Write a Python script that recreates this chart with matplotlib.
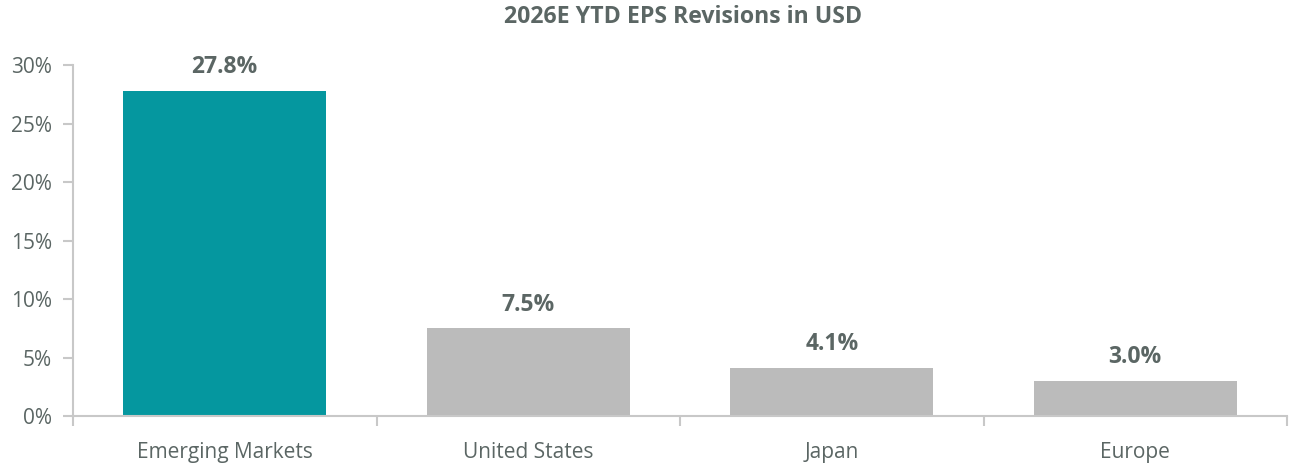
import matplotlib
matplotlib.use("Agg")
import matplotlib.pyplot as plt
from matplotlib.ticker import FuncFormatter

categories = ["Emerging Markets", "United States", "Japan", "Europe"]
values = [27.8, 7.5, 4.1, 3.0]
colors = ["#05979F", "#BBBBBB", "#BBBBBB", "#BBBBBB"]
yticks = [0, 5, 10, 15, 20, 25, 30]

plt.rcParams['font.family'] = ['Open Sans', 'DejaVu Sans']
txt = "#5B6664"
axc = "#C8C8C8"

fig = plt.figure(figsize=(12.91, 4.66), dpi=100)
ax = fig.add_axes([73/1291, 1-416/466, (1287-73)/1291, (416-65)/466])
x = list(range(len(categories)))
ax.bar(x, values, width=0.67, color=colors, zorder=2)
for xi, v in zip(x, values):
    ax.annotate(f"{v:.1f}%", (xi, v), xytext=(0, 17), textcoords="offset points",
                ha="center", va="center", fontsize=16.5, fontweight="bold", color=txt)
ax.set_xlim(-0.5, len(categories) - 0.5)
ax.set_ylim(0, 30)
ax.set_yticks(yticks)
ax.yaxis.set_major_formatter(FuncFormatter(lambda v, p: f"{v:.0f}%"))
ax.set_xticks(x)
ax.set_xticklabels(categories)
ax.set_xticks([i - 0.5 for i in range(len(categories) + 1)], minor=True)
ax.tick_params(axis="x", which="major", length=0, pad=19, labelsize=15, labelcolor=txt)
ax.tick_params(axis="x", which="minor", length=7, width=1.5, color=axc, direction="out")
ax.tick_params(axis="y", length=7, width=1.5, color=axc, labelsize=15, labelcolor=txt, pad=8)
ax.spines["top"].set_visible(False)
ax.spines["right"].set_visible(False)
for s in ["left", "bottom"]:
    ax.spines[s].set_color(axc)
    ax.spines[s].set_linewidth(1.5)
fig.text(683/1291, 1-17/466, "2026E YTD EPS Revisions in USD", ha="center", va="center",
         fontsize=16.7, fontweight="bold", color=txt)
fig.savefig("out.png", dpi=100)
